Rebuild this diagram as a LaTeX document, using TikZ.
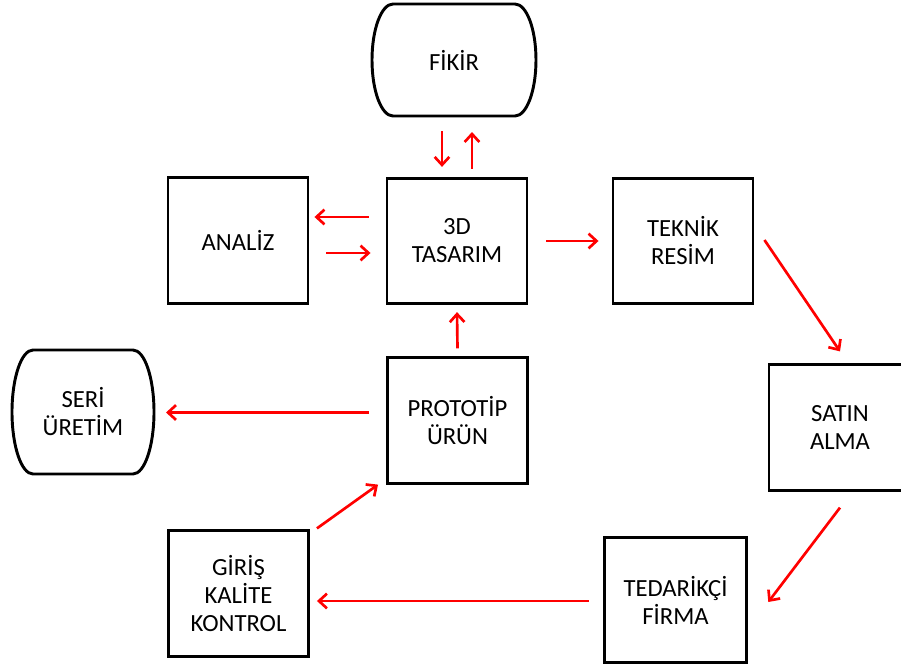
\documentclass[tikz,border=0pt]{standalone}
\usepackage{fontspec}
\setmainfont{Carlito}
\usetikzlibrary{arrows.meta,calc}

\tikzset{
  kutu/.style={draw, line width=2.2pt, minimum width=105pt, minimum height=94pt,
    align=center, font=\fontsize{18.5}{21}\selectfont},
  uc/.style={kutu, draw=none, outer sep=0pt},
  ok/.style={red, line width=2pt, -{Straight Barb[length=6pt,width=11pt]}}
}
% yanlari kavisli uc kutusu
\newcommand{\yuvarla}[1]{%
  \draw[line width=2.2pt] ($(#1.north west)+(21,0)$) -- ($(#1.north east)+(-21,0)$)
    .. controls ($(#1.north east)+(-9.4,0)$) and ($(#1.east)!0.552!(#1.north east)$) .. (#1.east)
    .. controls ($(#1.east)!0.552!(#1.south east)$) and ($(#1.south east)+(-9.4,0)$) .. ($(#1.south east)+(-21,0)$)
    -- ($(#1.south west)+(21,0)$)
    .. controls ($(#1.south west)+(9.4,0)$) and ($(#1.west)!0.552!(#1.south west)$) .. (#1.west)
    .. controls ($(#1.west)!0.552!(#1.north west)$) and ($(#1.north west)+(9.4,0)$) .. cycle;}

\begin{document}
\begin{tikzpicture}[x=0.75pt, y=-0.75pt]
\useasboundingbox (0,0) rectangle (901,665);

% kutular
\node[uc, minimum width=123pt, minimum height=84pt] (fikir) at (454,60) {F\.IK\.IR};
\node[kutu] (analiz) at (238,240.5) {ANAL\.IZ};
\node[kutu] (tasarim) at (457,241) {3D\\TASARIM};
\node[kutu] (teknik) at (683,241) {TEKN\.IK\\RES\.IM};
\node[kutu, minimum width=106.5pt] (satin) at (840,427.5) {SATIN\\ALMA};
\node[kutu] (prototip) at (457.5,420.5) {PROTOT\.IP\\ÜRÜN};
\node[uc, minimum width=106.5pt, minimum height=93pt] (seri) at (83,412) {SER\.I\\ÜRET\.IM};
\node[kutu] (giris) at (238.5,593.5) {G\.IR\.I\c{S}\\KAL\.ITE\\KONTROL};
\node[kutu, minimum width=107pt] (tedarikci) at (675.5,600) {TEDAR\.IKÇ\.I\\F\.IRMA};
\yuvarla{fikir}
\yuvarla{seri}

% oklar
\draw[ok] ($(fikir.south)+(-12,15)$) -- ($(fikir.south |- tasarim.north)+(-12,-10)$);
\draw[ok] ($(fikir.south |- tasarim.north)+(18,-8)$) -- ($(fikir.south)+(18,16)$);
\draw[ok] ($(tasarim.west)+(-17,-24)$) -- ($(analiz.east |- tasarim.west)+(5,-24)$);
\draw[ok] ($(analiz.east |- tasarim.west)+(17,12)$) -- ($(tasarim.west)+(-15,12)$);
\draw[ok] ($(tasarim.east)+(18,0)$) -- ($(teknik.west)+(-13,0)$);
\draw[ok] ($(teknik.east)+(10,-1)$) -- ($(satin.north)+(0,-12)$);
\draw[ok] ($(satin.south)+(0,16)$) -- ($(tedarikci.east)+(20,2)$);
\draw[ok] ($(tedarikci.west)+(-14,1)$) -- ($(giris.east |- tedarikci.west)+(7,1)$);
\draw[ok] ($(giris.north east)+(7,-1)$) -- ($(prototip.south west)+(-8,0)$);
\draw[ok] ($(prototip.north)+(0,-8)$) -- ($(tasarim.south)+(0,7)$);
\draw[ok] ($(prototip.west)+(-17,-8)$) -- ($(seri.east |- prototip.west)+(12,-8)$);
\end{tikzpicture}
\end{document}
